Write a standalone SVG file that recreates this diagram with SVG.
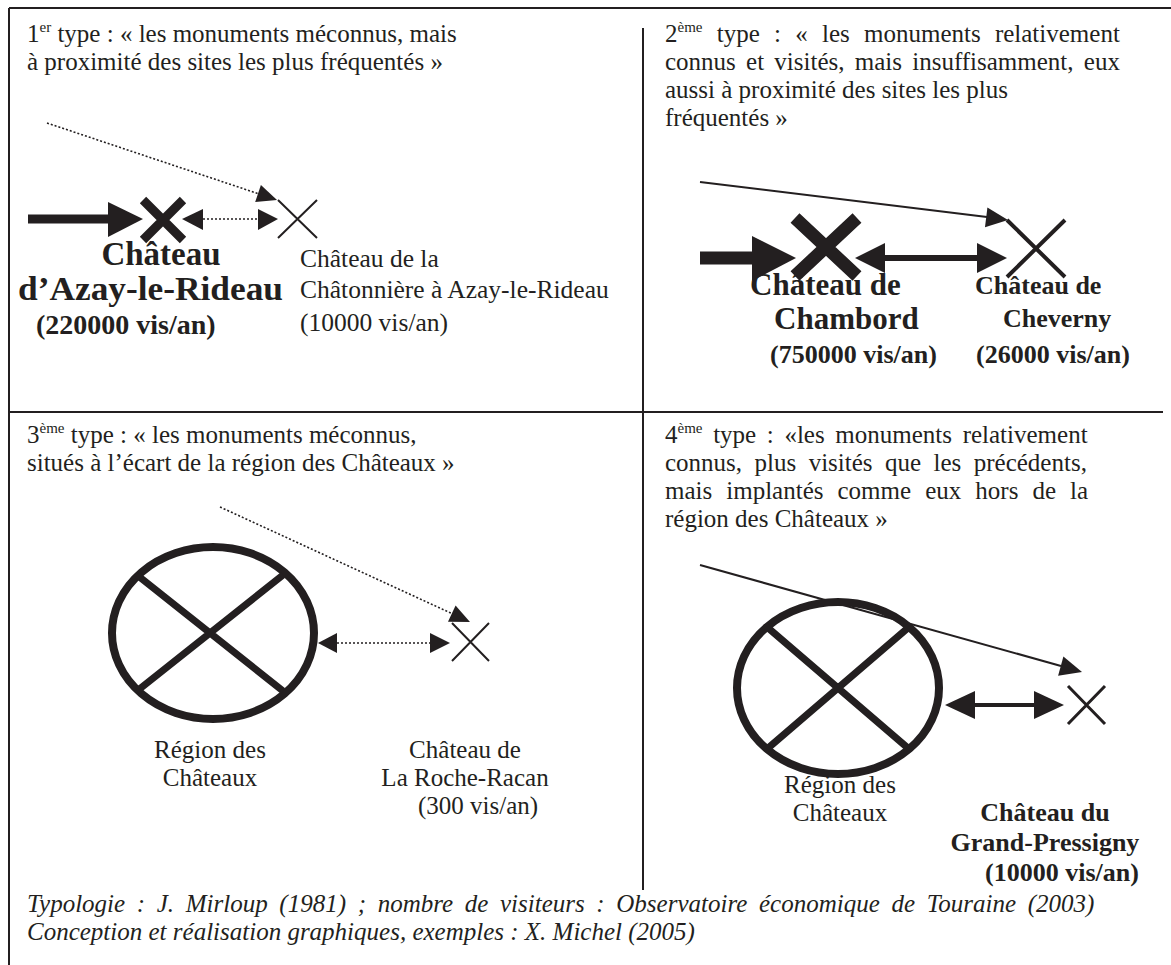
<svg xmlns="http://www.w3.org/2000/svg" width="1171" height="965" viewBox="0 0 1171 965">
<style>
text{font-family:"Liberation Serif","Times New Roman",serif;fill:#231f20;font-size:25px}
.b{font-weight:bold}
.i{font-style:italic}
.m{text-anchor:middle}
.sup{font-size:15px}
.s33{font-size:33px}
.s31{font-size:31px}
.s28{font-size:28px}
.s26{font-size:26px}
.s255{font-size:25.5px}
.frame{stroke:#231f20;stroke-width:2;fill:none}
.dot{stroke:#231f20;stroke-width:1.6;stroke-dasharray:2 2;fill:none}
.sol{stroke:#231f20;fill:none}
.ah{fill:#231f20}
.xs{stroke:#231f20;fill:none}
.ell{stroke:#231f20;stroke-width:8;fill:none}
</style>
<rect width="1171" height="965" fill="#fff"/>
<g id="frame">
<line class="frame" x1="9" y1="8" x2="1171" y2="8"/>
<line class="frame" x1="9" y1="8" x2="9" y2="965"/>
<line class="frame" x1="643" y1="28" x2="643" y2="890"/>
<line class="frame" x1="9" y1="412" x2="1163" y2="412"/>
</g>
<g id="titles">
<text x="27" y="42">1<tspan class="sup" dy="-10">er</tspan><tspan dy="10"> type : « les monuments méconnus, mais</tspan></text>
<text x="27" y="70">à proximité des sites les plus fréquentés »</text>
<text x="665" y="42" word-spacing="8">2<tspan class="sup" dy="-10">ème</tspan><tspan dy="10"> type : « les monuments relativement</tspan></text>
<text x="665" y="70" word-spacing="4">connus et visités, mais insuffisamment, eux</text>
<text x="665" y="98">aussi à proximité des sites les plus</text>
<text x="665" y="126">fréquentés »</text>
<text x="27" y="443">3<tspan class="sup" dy="-10">ème</tspan><tspan dy="10"> type : « les monuments méconnus,</tspan></text>
<text x="27" y="471">situés à l’écart de la région des Châteaux »</text>
<text x="665" y="443" word-spacing="4.4">4<tspan class="sup" dy="-10">ème</tspan><tspan dy="10"> type : «les monuments relativement</tspan></text>
<text x="665" y="471" word-spacing="6.2">connus, plus visités que les précédents,</text>
<text x="665" y="499" word-spacing="7.8">mais implantés comme eux hors de la</text>
<text x="665" y="527">région des Châteaux »</text>
</g>
<g id="connectors">
<line class="dot" x1="47" y1="123" x2="258" y2="193.6"/>
<polygon class="ah" points="277,200 255.2,202.1 260.9,185.1"/>
<line class="sol" stroke-width="9" x1="28" y1="219" x2="110" y2="219"/>
<polygon class="ah" points="108,202 143,219 108,237"/>
<line class="dot" x1="203" y1="219" x2="258" y2="219"/>
<polygon class="ah" points="182,219 203,209 203,230"/>
<polygon class="ah" points="278,219 258,209 258,230"/>
<line class="sol" stroke-width="2" x1="700" y1="182" x2="987" y2="217"/>
<polygon class="ah" points="1008,220 985,227.2 987.4,207.4"/>
<line class="sol" stroke-width="13" x1="700" y1="258" x2="754" y2="258"/>
<polygon class="ah" points="752,236 796,258 752,281"/>
<line class="sol" stroke-width="6" x1="884" y1="258" x2="978" y2="258"/>
<polygon class="ah" points="855,258 885,243 885,273"/>
<polygon class="ah" points="1007,258 977,243 977,273"/>
<line class="dot" x1="220" y1="507" x2="452" y2="613.6"/>
<polygon class="ah" points="470,622 448,621.8 455.6,605.4"/>
<line class="dot" x1="337" y1="643" x2="430" y2="643"/>
<polygon class="ah" points="318,643 337,633 337,653"/>
<polygon class="ah" points="450,643 430,633 430,653"/>
<line class="sol" stroke-width="2" x1="700" y1="565" x2="1061" y2="666"/>
<polygon class="ah" points="1082,672 1058.1,675.8 1063.4,656.5"/>
<line class="sol" stroke-width="4" x1="974" y1="705" x2="1036" y2="705"/>
<polygon class="ah" points="945,705 975,691 975,719"/>
<polygon class="ah" points="1064,705 1034,691 1034,719"/>
</g>
<g id="azay">
<path class="xs" stroke-width="9" d="M143,200 L183,240 M183,200 L143,240"/>
<text class="b m s33" x="161" y="265">Château</text>
<text class="b s33" x="18" y="300" textLength="265" lengthAdjust="spacingAndGlyphs">d’Azay-le-Rideau</text>
<text class="b s28" x="36" y="334">(220000 vis/an)</text>
</g>
<g id="chatonniere">
<path class="xs" stroke-width="2" d="M278,200 L317,238 M317,200 L278,238"/>
<text class="s255" x="300" y="267">Château de la</text>
<text class="s255" x="300" y="298">Châtonnière à Azay-le-Rideau</text>
<text class="s255" x="300" y="331">(10000 vis/an)</text>
</g>
<g id="chambord">
<path class="xs" stroke-width="13" d="M795,218 L857,276 M857,218 L795,276"/>
<text class="b s31" x="750" y="295">Château de</text>
<text class="b s31" x="774" y="329">Chambord</text>
<text class="b s26" x="770" y="363">(750000 vis/an)</text>
</g>
<g id="cheverny">
<path class="xs" stroke-width="4" d="M1007,220 L1065,277 M1065,220 L1007,277"/>
<text class="b s26" x="975" y="294">Château de</text>
<text class="b s26" x="1003" y="327">Cheverny</text>
<text class="b s26" x="976" y="363">(26000 vis/an)</text>
</g>
<g id="region3">
<ellipse class="ell" cx="213" cy="633" rx="101" ry="86"/>
<path class="xs" stroke-width="7" d="M137,575 L283,691 M283,575 L137,691"/>
<text class="m" x="210" y="758">Région des</text>
<text class="m" x="210" y="786">Châteaux</text>
</g>
<g id="rocheracan">
<path class="xs" stroke-width="2" d="M452,623 L489,661 M489,623 L452,661"/>
<text class="m" x="465" y="758">Château de</text>
<text class="m" x="465" y="786">La Roche-Racan</text>
<text class="m" x="478" y="814">(300 vis/an)</text>
</g>
<g id="region4">
<ellipse class="ell" cx="838" cy="688" rx="101" ry="86"/>
<path class="xs" stroke-width="7" d="M767,627 L909,749 M909,627 L767,749"/>
<text class="m" x="840" y="793">Région des</text>
<text class="m" x="840" y="821">Châteaux</text>
</g>
<g id="grandpressigny">
<path class="xs" stroke-width="3" d="M1068,686 L1105,724 M1105,686 L1068,724"/>
<text class="b m s26" x="1045" y="821">Château du</text>
<text class="b m s26" x="1045" y="851">Grand-Pressigny</text>
<text class="b m s26" x="1062" y="881">(10000 vis/an)</text>
</g>
<g id="source">
<text class="i" x="27" y="912" word-spacing="5.4">Typologie : J. Mirloup (1981) ; nombre de visiteurs : Observatoire économique de Touraine (2003)</text>
<text class="i" x="27" y="940">Conception et réalisation graphiques, exemples : X. Michel (2005)</text>
</g>
</svg>
